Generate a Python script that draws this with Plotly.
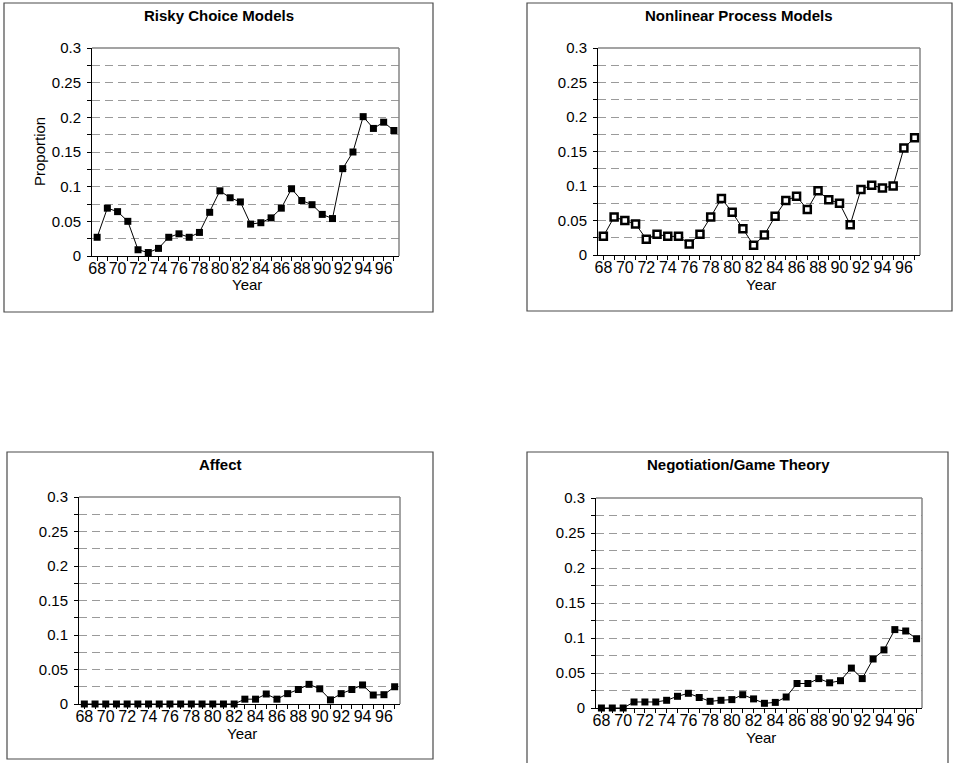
import plotly.graph_objects as go

W, H = 953, 763

years = list(range(68, 98))
x_tick_labels = [str(y) if y % 2 == 0 else "" for y in years]
y_tick_vals = [0, 0.025, 0.05, 0.075, 0.1, 0.125, 0.15, 0.175, 0.2, 0.225, 0.25, 0.275, 0.3]
y_tick_text = ["0", "", "0.05", "", "0.1", "", "0.15", "", "0.2", "", "0.25", "", "0.3"]

risky_choice = [0.027, 0.069, 0.064, 0.050, 0.009, 0.005, 0.011, 0.027, 0.032, 0.027,
                0.034, 0.063, 0.094, 0.084, 0.078, 0.046, 0.048, 0.055, 0.069, 0.097,
                0.080, 0.074, 0.060, 0.054, 0.126, 0.150, 0.201, 0.184, 0.193, 0.181]
nonlinear_process = [0.027, 0.055, 0.050, 0.045, 0.023, 0.030, 0.027, 0.027, 0.016, 0.030,
                     0.055, 0.082, 0.062, 0.038, 0.014, 0.029, 0.056, 0.079, 0.085, 0.066,
                     0.093, 0.080, 0.075, 0.044, 0.095, 0.101, 0.097, 0.100, 0.155, 0.170]
affect = [0.0, 0.0, 0.0, 0.0, 0.0, 0.0, 0.0, 0.0, 0.0, 0.0,
          0.0, 0.0, 0.0, 0.0, 0.0, 0.007, 0.007, 0.0145, 0.007, 0.015,
          0.021, 0.0285, 0.022, 0.006, 0.015, 0.021, 0.0276, 0.013, 0.0135, 0.025]
negotiation = [0.0, 0.0, 0.0, 0.0086, 0.0086, 0.0086, 0.011, 0.0167, 0.021, 0.015,
               0.0095, 0.011, 0.012, 0.019, 0.013, 0.0067, 0.008, 0.0157, 0.035, 0.035,
               0.042, 0.036, 0.039, 0.057, 0.042, 0.070, 0.083, 0.112, 0.110, 0.099]

titles = ["Risky Choice Models", "Nonlinear Process Models", "Affect", "Negotiation/Game Theory"]
series = [risky_choice, nonlinear_process, affect, negotiation]


def fx(px):
    return px / W


def fy(py):
    return 1 - py / H


# plot areas in reference pixels: (left, right, top, bottom)
plot_areas = [(92, 399, 48, 256), (598, 920, 48, 255), (79, 400, 497, 704), (596, 922, 498, 708)]
# outer frames in reference pixels
frames = [(4, 433, 3, 312), (527, 952, 3, 311), (7, 433, 452, 759), (527, 948, 452, 775)]
title_pos = [(219, 15), (739, 15), (220, 464), (738, 464)]

FONT = "Liberation Sans, Arial, sans-serif"
GRID = "#9a9a9a"

fig = go.Figure()
layout = dict(
    template="none",
    width=W, height=H, margin=dict(l=0, r=0, t=0, b=0, pad=0, autoexpand=False),
    paper_bgcolor="white", plot_bgcolor="white", showlegend=False,
    font=dict(family=FONT, color="black", size=15),
)
shapes = []
annotations = []

for i, (vals, title) in enumerate(zip(series, titles)):
    n = "" if i == 0 else str(i + 1)
    l, r, t, b = plot_areas[i]
    if i == 1:
        marker = dict(symbol="square", size=7, color="white", line=dict(color="black", width=2.5))
    else:
        marker = dict(symbol="square", size=7, color="black", line=dict(color="black", width=0))
    fig.add_trace(go.Scatter(
        x=years, y=vals, mode="lines+markers",
        line=dict(color="black", width=1), marker=marker,
        xaxis="x" + n, yaxis="y" + n, cliponaxis=False,
    ))
    layout["xaxis" + n] = dict(
        domain=[fx(l), fx(r)], anchor="y" + n, range=[67.5, 97.5], automargin=False,
        tickmode="array", tickvals=years, ticktext=x_tick_labels,
        ticks="outside", ticklen=4, tickcolor="black", tickwidth=1,
        showline=True, linecolor="black", linewidth=1, mirror=False,
        showgrid=False, zeroline=False, tickangle=0, ticklabelstandoff=-6,
        tickfont=dict(size=16, family=FONT, color="black"),
    )
    layout["yaxis" + n] = dict(
        domain=[fy(b), fy(t)], anchor="x" + n, range=[0, 0.3], automargin=False,
        tickmode="array", tickvals=y_tick_vals, ticktext=y_tick_text,
        ticks="outside", ticklen=4, tickcolor="black", tickwidth=1,
        showline=True, linecolor="black", linewidth=1, mirror=False,
        showgrid=True, gridcolor=GRID, griddash="8px,5px", gridwidth=1,
        zeroline=False, ticklabelstandoff=3,
        tickfont=dict(size=15, family=FONT, color="black"),
    )
    shapes.append(dict(type="line", xref="paper", yref="paper", x0=fx(l), x1=fx(r), y0=fy(t), y1=fy(t),
                       line=dict(color="#858585", width=1.5)))
    shapes.append(dict(type="line", xref="paper", yref="paper", x0=fx(r), x1=fx(r), y0=fy(t), y1=fy(b),
                       line=dict(color="#858585", width=1.5)))
    fl, fr, ft, fb = frames[i]
    shapes.append(dict(type="rect", xref="paper", yref="paper", x0=fx(fl), x1=fx(fr), y0=fy(fb), y1=fy(ft),
                       line=dict(color="#4a4a4a", width=1.2), layer="below"))
    tx, ty = title_pos[i]
    annotations.append(dict(text="<b>" + title + "</b>", xref="paper", yref="paper", x=fx(tx), y=fy(ty),
                            showarrow=False, xanchor="center", yanchor="middle",
                            font=dict(size=15, family=FONT, color="black")))
    annotations.append(dict(text="Year", xref="paper", yref="paper", x=fx((l + r) / 2 + 2), y=fy(b + 29),
                            showarrow=False, xanchor="center", yanchor="middle",
                            font=dict(size=15, family=FONT, color="black")))

annotations.append(dict(text="Proportion", xref="paper", yref="paper", x=fx(40), y=fy(152),
                        showarrow=False, xanchor="center", yanchor="middle", textangle=-90,
                        font=dict(size=15, family=FONT, color="black")))

layout["shapes"] = shapes
layout["annotations"] = annotations
fig.update_layout(**layout)
fig.write_html("out.html", config={"displayModeBar": False},
               post_script="document.body.style.margin='0px';")
